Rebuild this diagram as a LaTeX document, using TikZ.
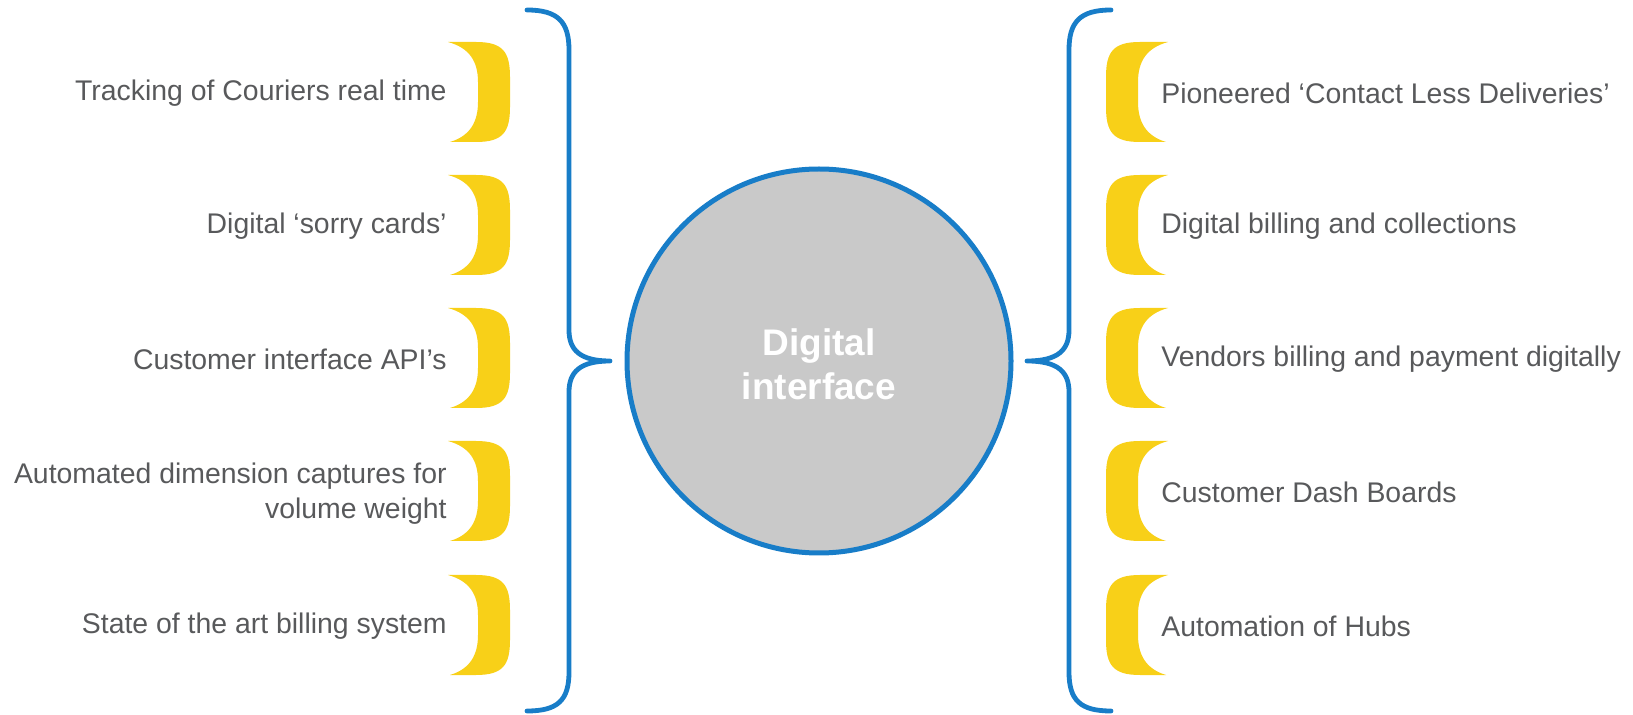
\documentclass[tikz,border=0pt]{standalone}
\usepackage{fontspec}
\setmainfont{Liberation Sans}
\usepackage{tikz}

\definecolor{bracketblue}{RGB}{24,125,200}
\definecolor{cupyellow}{RGB}{248,208,24}
\definecolor{hubgray}{RGB}{201,201,201}
\definecolor{labelgray}{RGB}{88,89,91}

% yellow half-moon, tip at x, centred on y, xscale 1 = opens left
\newcommand{\yellowcup}[3]{%
  \begin{scope}[shift={(#1,#2)},xscale=#3]
    \fill[cupyellow] (0,-50) -- (28,-50) .. controls (55,-50) and (62,-40) .. (62,-15)
      -- (62,15) .. controls (62,40) and (55,50) .. (28,50) -- (2,50)
      .. controls (22,44) and (30,30) .. (30,10) -- (30,-10)
      .. controls (30,-30) and (22,-44) .. (0,-50) -- cycle;
  \end{scope}}

\begin{document}
\begin{tikzpicture}[x=0.5pt,y=-0.5pt]
        \tikzstyle{every node}=[inner sep=0pt,text=labelgray,font=\fontsize{14.2}{17.5}\selectfont]
        \tikzstyle{bluebrace}=[draw=bracketblue,line width=2.4pt,line cap=round,line join=round]
        \tikzstyle{lefttext}=[anchor=east,align=right]
        \tikzstyle{righttext}=[anchor=west,align=left]
            \useasboundingbox (0,0) rectangle (1633,715);

            \yellowcup{448}{92}{1}
            \yellowcup{448}{225}{1}
            \yellowcup{448}{358}{1}
            \yellowcup{448}{491}{1}
            \yellowcup{448}{625}{1}

            \yellowcup{1168}{92}{-1}
            \yellowcup{1168}{225}{-1}
            \yellowcup{1168}{358}{-1}
            \yellowcup{1168}{491}{-1}
            \yellowcup{1168}{625}{-1}

            \node[lefttext] (l1) at (447,93) {Tracking of Couriers real time};
            \node[lefttext] (l2) at (447,226) {Digital `sorry cards'};
            \node[lefttext] (l3) at (447,359) {Customer interface API's};
            \node[lefttext] (l4) at (447,494) {Automated dimension captures for\\volume weight};
            \node[lefttext] (l5) at (447,626) {State of the art billing system};

            \node[righttext] (r1) at (1161,93) {Pioneered `Contact Less Deliveries'};
            \node[righttext] (r2) at (1161,226) {Digital billing and collections};
            \node[righttext] (r3) at (1161,359) {Vendors billing and payment digitally};
            \node[righttext] (r4) at (1161,492) {Customer Dash Boards};
            \node[righttext] (r5) at (1161,626) {Automation of Hubs};

            \node[circle,draw=bracketblue,line width=2.5pt,fill=hubgray,minimum size=192pt] (hub) at (819,361) {};
            \node[text=white,align=center,font=\bfseries\fontsize{18.5}{22}\selectfont] (hublabel) at (819,364) {Digital\\interface};

            \draw[bluebrace] (527,10) .. controls (558,10) and (569,22) .. (569,50)
            -- (569,330) .. controls (569,350) and (580,361) .. (610,361)
            .. controls (580,361) and (569,372) .. (569,392)
            -- (569,672) .. controls (569,700) and (558,711) .. (527,711);

            \draw[bluebrace] (1111,10) .. controls (1080,10) and (1069,22) .. (1069,50)
            -- (1069,330) .. controls (1069,350) and (1058,361) .. (1027,361)
            .. controls (1058,361) and (1069,372) .. (1069,392)
            -- (1069,672) .. controls (1069,700) and (1080,711) .. (1111,711);
        \end{tikzpicture}
\end{document}
